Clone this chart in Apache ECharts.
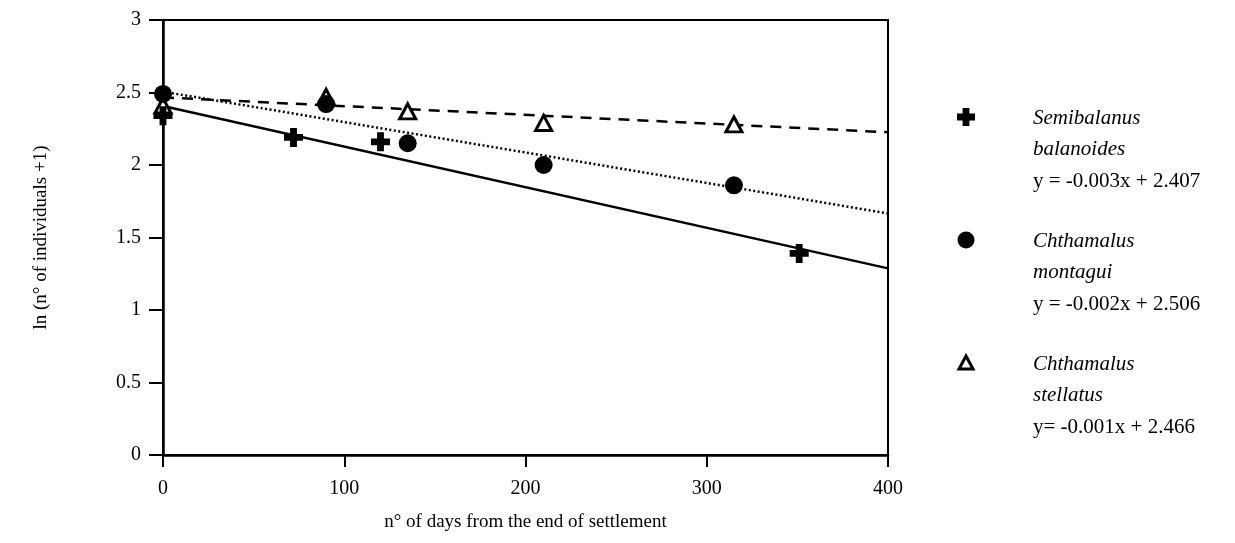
<!DOCTYPE html>
<html>
<head>
<meta charset="utf-8">
<script src="https://cdn.jsdelivr.net/npm/echarts@6/dist/echarts.min.js"></script>
<style>
  html, body { margin: 0; padding: 0; background: #fff; }
  #chart { width: 1235px; height: 543px; }
</style>
</head>
<body>
<div id="chart"></div>
<script>
// Observations: days since end of settlement, ln(n + 1)
const semibalanusX = [0, 72, 120, 351];
const semibalanusY = [2.34, 2.19, 2.16, 1.39];
const montaguiX = [0, 90, 135, 210, 315];
const montaguiY = [2.49, 2.42, 2.15, 2.00, 1.86];
const stellatusX = [0, 90, 135, 210, 315];
const stellatusY = [2.41, 2.47, 2.37, 2.29, 2.28];

// Linear fits (intercept, slope) drawn across 0–400 days
const fitRange = [0, 400];
const semibalanusFit = [2.407, -0.0028];
const montaguiFit = [2.506, -0.0021];
const stellatusFit = [2.466, -0.0006];

const xTicks = [0, 100, 200, 300, 400];
const yTicks = [0, 0.5, 1, 1.5, 2, 2.5, 3];

const speciesNames = [['Semibalanus', 'balanoides'], ['Chthamalus', 'montagui'], ['Chthamalus', 'stellatus']];
const equations = ['y = -0.003x + 2.407', 'y = -0.002x + 2.506', 'y= -0.001x + 2.466'];

const FONT = '"Liberation Serif", "DejaVu Serif", serif';
const PLUS = 'path://M3.2,0H6.8V3.2H10V6.8H6.8V10H3.2V6.8H0V3.2H3.2Z';

function pairs(xs, ys) { return xs.map((x, i) => [x, ys[i]]); }
function fitLine(f) { return fitRange.map(x => [x, f[0] + f[1] * x]); }
function plusPoints(cx, cy, s) {
  const a = s / 2, b = s * 0.19;
  return [[cx - b, cy - a], [cx + b, cy - a], [cx + b, cy - b], [cx + a, cy - b], [cx + a, cy + b],
          [cx + b, cy + b], [cx + b, cy + a], [cx - b, cy + a], [cx - b, cy + b], [cx - a, cy + b],
          [cx - a, cy - b], [cx - b, cy - b]];
}

const chart = echarts.init(document.getElementById('chart'));

// Legend block on the right: symbol + italic name + equation
const legendGraphics = [];
const legendSymbols = [
  { type: 'polygon', shape: { points: plusPoints(966, 117, 18) }, style: { fill: '#000' } },
  { type: 'circle', shape: { cx: 966, cy: 240, r: 8.5 }, style: { fill: '#000' } },
  { type: 'polygon', shape: { points: [[966, 356], [959, 369], [973, 369]] }, style: { fill: '#fff', stroke: '#000', lineWidth: 3 } }
];
const rowTop = [117, 240, 363];
rowTop.forEach((y0, i) => {
  legendGraphics.push(legendSymbols[i]);
  legendGraphics.push({ type: 'text', left: 1033, top: y0 - 9, style: { text: speciesNames[i][0], font: 'italic 21px ' + FONT, fill: '#000' } });
  legendGraphics.push({ type: 'text', left: 1033, top: y0 + 22, style: { text: speciesNames[i][1], font: 'italic 21px ' + FONT, fill: '#000' } });
  legendGraphics.push({ type: 'text', left: 1033, top: y0 + 54, style: { text: equations[i], font: '21px ' + FONT, fill: '#000' } });
});

chart.setOption({
  animation: false,
  backgroundColor: '#fff',
  grid: { left: 163, right: 347, top: 20, bottom: 88, show: true, borderColor: '#000', borderWidth: 2 },
  xAxis: {
    type: 'value', min: 0, max: 400, interval: 100,
    name: 'n° of days from the end of settlement',
    nameLocation: 'middle', nameGap: 58,
    nameTextStyle: { fontFamily: FONT, fontSize: 19, color: '#000' },
    axisLine: { show: true, lineStyle: { color: '#000', width: 2.5 } },
    axisTick: { show: true, length: 12, lineStyle: { color: '#000', width: 2 } },
    axisLabel: { fontFamily: FONT, fontSize: 20, color: '#000', margin: 24,
      formatter: v => xTicks.includes(v) ? String(v) : '' },
    splitLine: { show: false }
  },
  yAxis: {
    type: 'value', min: 0, max: 3, interval: 0.5,
    name: 'ln (n° of individuals +1)',
    nameLocation: 'middle', nameGap: 112, nameRotate: 90,
    nameTextStyle: { fontFamily: FONT, fontSize: 19, color: '#000' },
    axisLine: { show: true, lineStyle: { color: '#000', width: 2.5 } },
    axisTick: { show: true, length: 14, lineStyle: { color: '#000', width: 2 } },
    axisLabel: { fontFamily: FONT, fontSize: 20, color: '#000', margin: 22,
      formatter: v => yTicks.includes(v) ? String(v) : '' },
    splitLine: { show: false }
  },
  series: [
    { type: 'line', data: fitLine(semibalanusFit), showSymbol: false, silent: true,
      lineStyle: { color: '#000', width: 2.5, type: 'solid' }, z: 2 },
    { type: 'line', data: fitLine(montaguiFit), showSymbol: false, silent: true,
      lineStyle: { color: '#000', width: 2.5, type: [2, 2.5] }, z: 2 },
    { type: 'line', data: fitLine(stellatusFit), showSymbol: false, silent: true,
      lineStyle: { color: '#000', width: 2.5, type: [11, 8] }, z: 2 },
    { type: 'scatter', name: 'Chthamalus stellatus', data: pairs(stellatusX, stellatusY),
      symbol: 'triangle', symbolSize: [16, 15],
      itemStyle: { color: '#fff', borderColor: '#000', borderWidth: 3, opacity: 1 }, z: 3 },
    { type: 'scatter', name: 'Chthamalus montagui', data: pairs(montaguiX, montaguiY),
      symbol: 'circle', symbolSize: 18,
      itemStyle: { color: '#000', opacity: 1 }, z: 4 },
    { type: 'scatter', name: 'Semibalanus balanoides', data: pairs(semibalanusX, semibalanusY),
      symbol: PLUS, symbolSize: 19,
      itemStyle: { color: '#000', opacity: 1 }, z: 5 }
  ],
  graphic: legendGraphics
});
</script>
</body>
</html>
